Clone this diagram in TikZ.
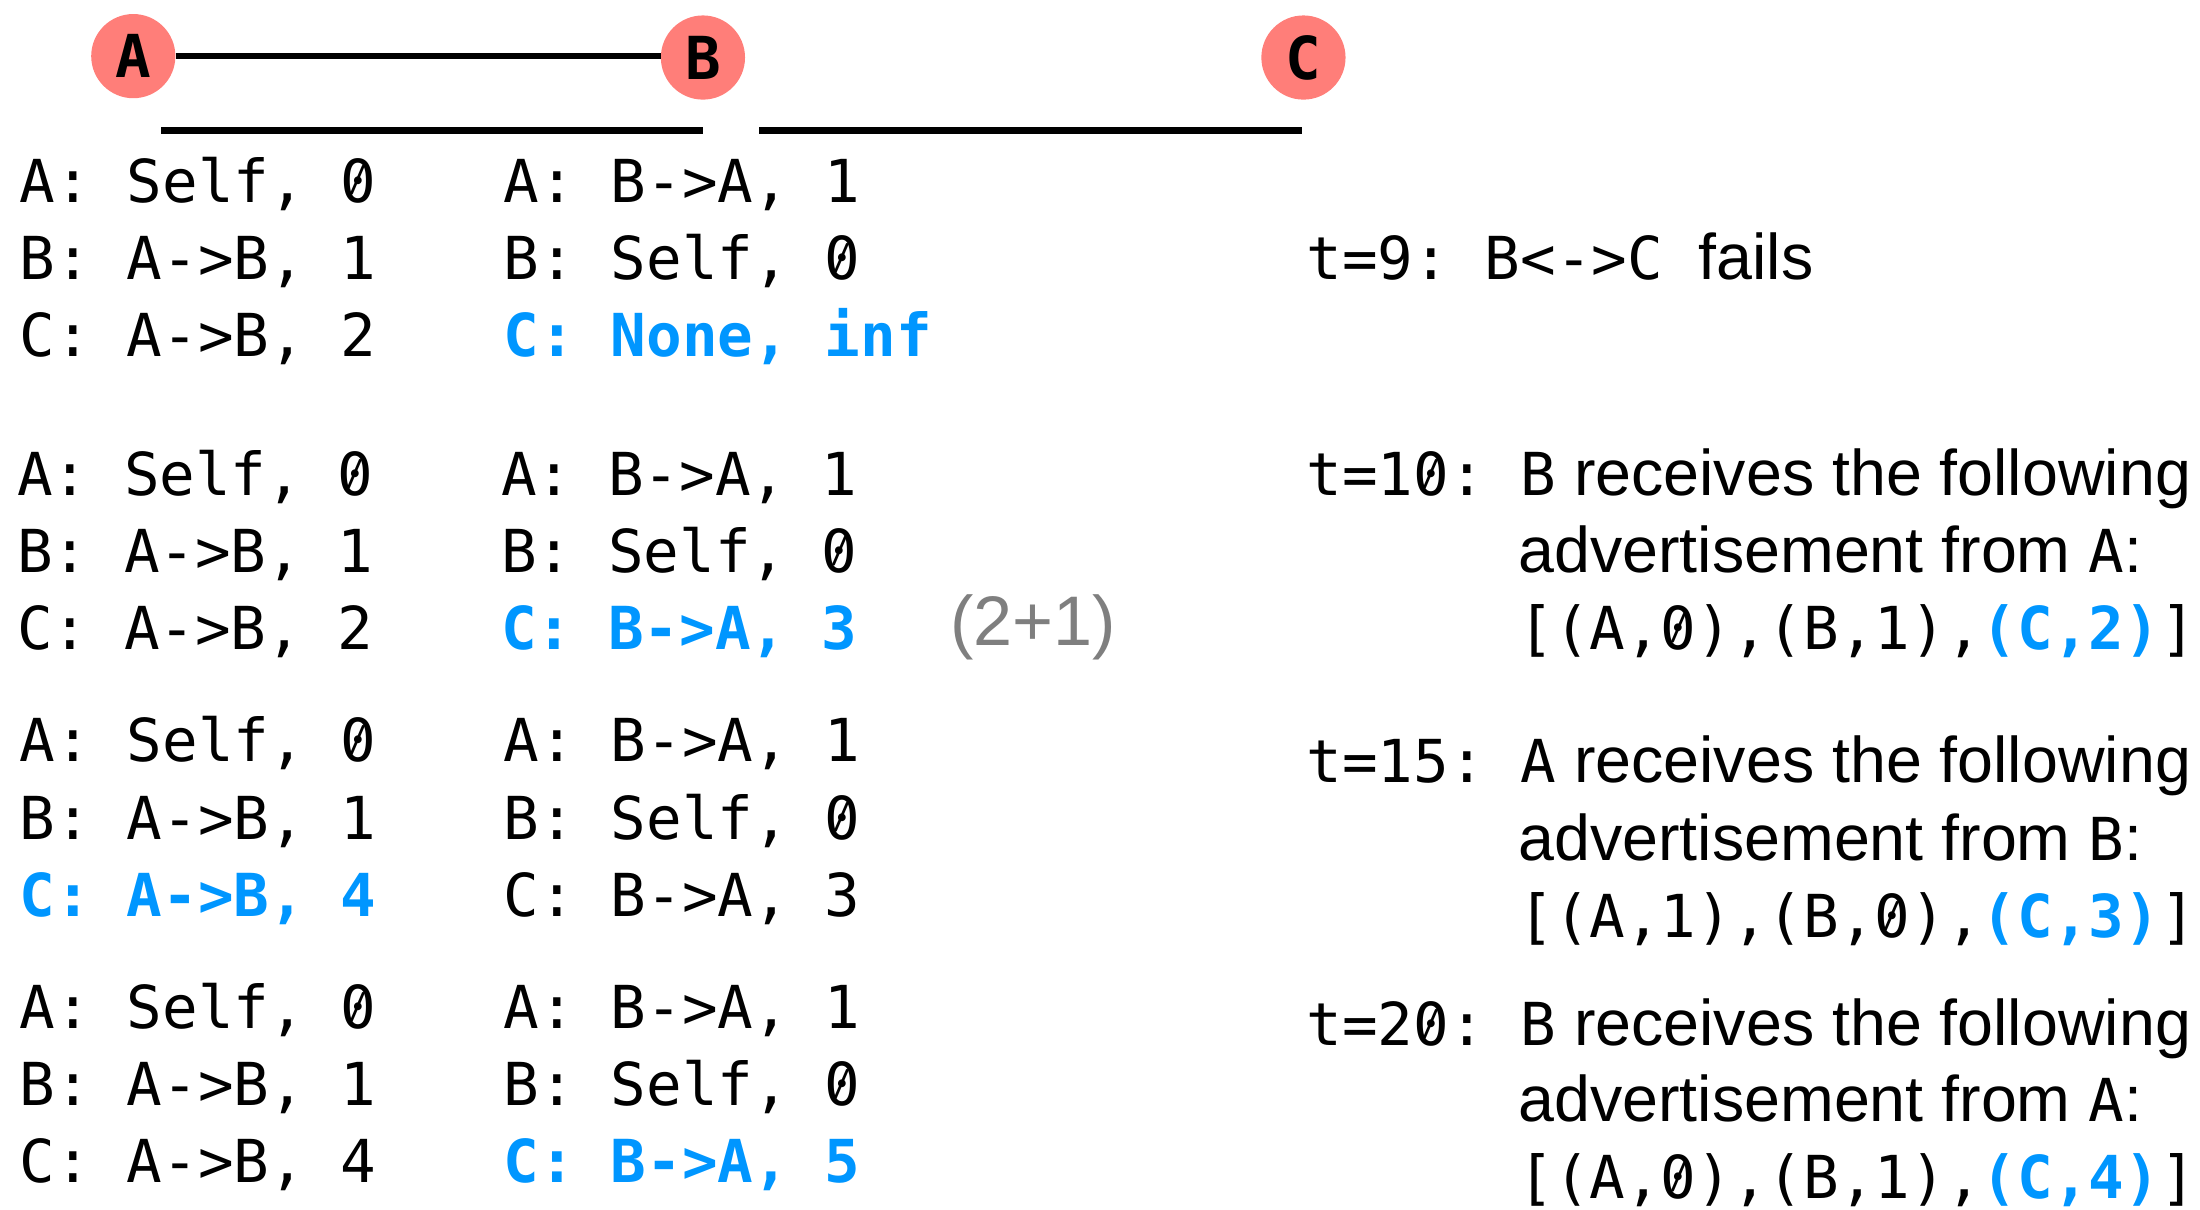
\documentclass[tikz,border=0pt]{standalone}
\usepackage{fontspec}
\usepackage{graphicx}
\newfontfamily\monof{DejaVu Sans Mono}
\newfontfamily\sansf{Liberation Sans}
\definecolor{salmon}{HTML}{FF7E79}
\definecolor{aqua}{HTML}{0096FF}
\definecolor{note}{HTML}{7F7F7F}
\newcommand{\monosize}{\fontsize{42.2}{42.2}\selectfont}
\tikzset{
  router/.style={circle, fill=salmon, minimum size=60pt, inner sep=0pt,
    font=\monof\bfseries\monosize},
  entry/.style={anchor=base west, inner sep=0pt, font=\monof\monosize},
  changed/.style={entry, text=aqua, font=\monof\bfseries\monosize},
  prose/.style={anchor=base west, inner sep=0pt,
    font=\sansf\fontsize{46}{46}\selectfont},
  link/.style={line width=4pt},
  rule/.style={line width=5pt},
}
% slashed zero
\newcommand{\zs}{{\ooalign{0\cr\hidewidth\raisebox{0.17em}{\scalebox{0.55}[0.6]{/}}\hidewidth\cr}}}
\newcommand{\mt}[1]{{\monof\monosize #1}}
\newcommand{\hl}[1]{{\monof\monosize\bfseries\color{aqua}#1}}
\frenchspacing
\begin{document}
\frenchspacing
\begin{tikzpicture}[x=1pt, y=-1pt]
  \useasboundingbox (0,0) rectangle (1568,862);

  % topology
  \node[router] (A) at (95,40) {A};
  \node[router] (B) at (501,41) {B};
  \node[router] (C) at (929,41) {C};
  \draw[link] (A.east) -- (B.west |- A.east);

  % table headers (one rule per router)
  \draw[rule] (115,93) -- (501,93);
  \draw[rule] (541,93) -- (928,93);

  % tables, step 1
  \node[entry]   (a11) at (14,144) {A: Self, \zs};
  \node[entry]   (a12) at (14,199) {B: A->B, 1};
  \node[entry]   (a13) at (14,254) {C: A->B, 2};
  \node[entry]   (b11) at (359,144) {A: B->A, 1};
  \node[entry]   (b12) at (359,199) {B: Self, \zs};
  \node[changed] (b13) at (359,254) {C: None, inf};

  % tables, step 2
  \node[entry]   (a21) at (12,353) {A: Self, \zs};
  \node[entry]   (a22) at (12,408) {B: A->B, 1};
  \node[entry]   (a23) at (12,463) {C: A->B, 2};
  \node[entry]   (b21) at (357,353) {A: B->A, 1};
  \node[entry]   (b22) at (357,408) {B: Self, \zs};
  \node[changed] (b23) at (357,463) {C: B->A, 3};
  \node[prose, text=note, font=\sansf\fontsize{50}{50}\selectfont] (sum) at (677,460) {(2+1)};

  % tables, step 3
  \node[entry]   (a31) at (14,543) {A: Self, \zs};
  \node[entry]   (a32) at (14,598) {B: A->B, 1};
  \node[changed] (a33) at (14,653) {C: A->B, 4};
  \node[entry]   (b31) at (359,543) {A: B->A, 1};
  \node[entry]   (b32) at (359,598) {B: Self, \zs};
  \node[entry]   (b33) at (359,653) {C: B->A, 3};

  % tables, step 4
  \node[entry]   (a41) at (14,733) {A: Self, \zs};
  \node[entry]   (a42) at (14,788) {B: A->B, 1};
  \node[entry]   (a43) at (14,843) {C: A->B, 4};
  \node[entry]   (b41) at (359,733) {A: B->A, 1};
  \node[entry]   (b42) at (359,788) {B: Self, \zs};
  \node[changed] (b43) at (359,843) {C: B->A, 5};

  % events
  \node[prose] (e9) at (931,199) {\mt{t=9: B<->C }fails};

  \node[prose] (e10a) at (931,353) {\mt{t=1\zs: B} receives the following};
  \node[prose] (e10b) at (1082,408) {advertisement from \mt{A}:};
  \node[prose] (e10c) at (1082,463) {\mt{[(A,\zs),(B,1),}\hl{(C,2)}\mt{]}};

  \node[prose] (e15a) at (931,558) {\mt{t=15: A} receives the following};
  \node[prose] (e15b) at (1082,613) {advertisement from \mt{B}:};
  \node[prose] (e15c) at (1082,668) {\mt{[(A,1),(B,\zs),}\hl{(C,3)}\mt{]}};

  \node[prose] (e20a) at (931,745) {\mt{t=2\zs: B} receives the following};
  \node[prose] (e20b) at (1082,799) {advertisement from \mt{A}:};
  \node[prose] (e20c) at (1082,854) {\mt{[(A,\zs),(B,1),}\hl{(C,4)}\mt{]}};
\end{tikzpicture}
\end{document}
